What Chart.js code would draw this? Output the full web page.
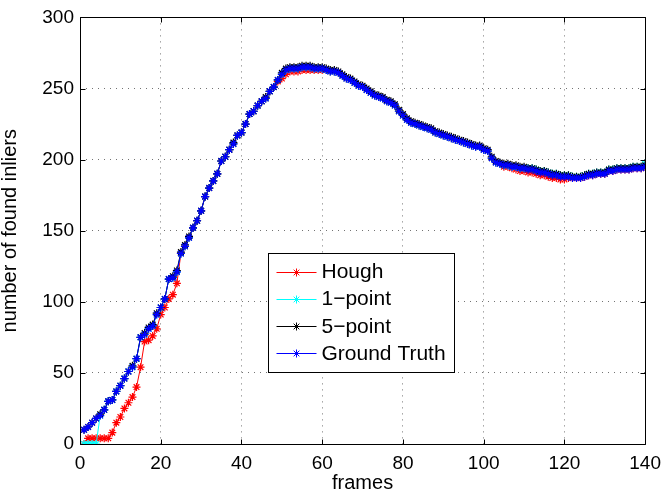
<!DOCTYPE html>
<html><head><meta charset="utf-8">
<script src="https://cdn.jsdelivr.net/npm/chart.js@4/dist/chart.umd.min.js"></script>
<style>html,body{margin:0;padding:0;background:#fff;overflow:hidden}#wrap{width:669px;height:498px;position:relative}</style>
</head><body><div id="wrap"><canvas id="c" width="669" height="498"></canvas></div>
<script>
const frames = [1,2,3,4,5,6,7,8,9,10,11,12,13,14,15,16,17,18,19,20,21,22,23,24,25,26,27,28,29,30,31,32,33,34,35,36,37,38,39,40,41,42,43,44,45,46,47,48,49,50,51,52,53,54,55,56,57,58,59,60,61,62,63,64,65,66,67,68,69,70,71,72,73,74,75,76,77,78,79,80,81,82,83,84,85,86,87,88,89,90,91,92,93,94,95,96,97,98,99,100,101,102,103,104,105,106,107,108,109,110,111,112,113,114,115,116,117,118,119,120,121,122,123,124,125,126,127,128,129,130,131,132,133,134,135,136,137,138,139,140];

const groundTruth = [10,12,15,18,20,24,30,31,37,41,
46,51,54,60,75,77,81,83,91,96,
102,116,117,121,134,139,145,152,157,164,
174,180,185,190,199,202,207,211,217,219,
225,232,234,238,241,243,248,251,256,260,
263,264,264,264,265,265,265,264,264,264,
263,262,262,261,259,257,256,254,252,251,
249,247,245,244,243,241,240,238,234,231,
228,226,225,224,223,222,221,219,218,217,
216,215,214,213,212,211,210,209,209,207,
206,201,198,197,196,196,195,195,194,194,
193,193,192,191,191,190,189,189,188,188,
188,187,187,187,188,189,189,190,190,190,
192,192,193,193,193,193,194,194,194,195];

const fivePoint = [10,12,15,18,21,24,30,31,37,41,
46,51,55,60,75,78,82,84,92,96,
102,116,118,122,135,140,146,152,157,164,
174,180,185,190,199,202,207,212,217,219,
225,232,234,238,241,244,248,251,256,261,
264,265,265,265,266,266,266,265,265,265,
264,263,263,262,260,258,257,255,253,252,
250,248,246,245,244,242,241,239,235,232,
229,227,226,225,224,223,222,220,219,218,
217,216,215,214,213,212,211,210,210,208,
207,202,199,198,197,197,196,196,195,195,
194,194,193,192,192,191,190,190,189,189,
189,188,188,188,189,190,190,191,191,191,
193,193,194,194,194,194,195,195,195,196];

const onePoint = [0,0,0,0,20,24,30,31,37,41,
46,51,54,60,75,77,81,83,91,96,
102,116,117,121,134,139,145,152,157,164,
174,180,185,190,199,202,207,211,217,219,
225,232,234,238,241,243,248,251,256,260,
263,264,264,264,265,265,265,264,264,264,
263,262,262,261,259,257,256,254,252,251,
249,247,245,244,243,241,240,238,234,231,
228,226,225,224,223,222,221,219,218,217,
216,215,214,213,212,211,210,209,209,207,
206,201,198,197,196,196,195,195,194,194,
194,194,193,192,192,191,190,190,189,189,
189,188,188,188,189,190,190,191,191,191,
193,193,194,194,194,194,195,195,195,197];

const hough = [0,4,4,4,4,4,4,8,15,19,
25,29,33,40,54,72,73,76,81,91,
96,102,105,113,134,139,145,152,157,164,
174,180,185,190,199,202,207,211,217,219,
225,232,234,238,241,243,248,251,255,257,
260,262,262,262,263,263,263,263,263,263,
263,262,262,261,259,257,256,254,252,251,
249,247,245,244,243,241,240,238,234,231,
228,226,225,224,223,222,221,219,218,217,
216,215,214,213,212,211,210,209,209,207,
206,201,198,197,195,195,194,193,192,192,
191,191,190,189,189,188,187,187,186,186,
187,187,187,187,188,189,189,190,190,190,
192,192,193,193,193,193,194,194,194,195];

const xTicks = [0,20,40,60,80,100,120,140];
const yTicks = [0,50,100,150,200,250,300];
const seriesNames = ['Hough','1\u2212point','5\u2212point','Ground Truth'];
const seriesColors = ['#ff0000','#00ffff','#000000','#0000ff'];
const seriesData = [hough, onePoint, fivePoint, groundTruth];

const FONT = 'Liberation Sans, Arial, Helvetica, sans-serif';

const datasets = seriesData.map((arr, i) => ({
  label: seriesNames[i],
  data: frames.map((f, k) => ({x: f, y: arr[k]})),
  borderColor: seriesColors[i],
  backgroundColor: seriesColors[i],
  borderWidth: 1,
  pointStyle: 'star',
  pointRadius: 4,
  pointBorderWidth: 1.2,
  pointBorderColor: seriesColors[i],
  tension: 0,
  order: 4 - i
}));

const framePlugin = {
  id: 'frame',
  afterDraw(chart) {
    const ctx = chart.ctx, a = chart.chartArea;
    const xs = chart.scales.x, ys = chart.scales.y;
    ctx.save();
    ctx.strokeStyle = '#000';
    ctx.lineWidth = 1;
    ctx.setLineDash([]);
    ctx.beginPath();
    const L = Math.round(a.left) + 0.5, R = Math.round(a.right) + 0.5, T = Math.round(a.top) + 0.5, B = Math.round(a.bottom) + 0.5;
    ctx.rect(L, T, R - L, B - T);
    const tl = 5;
    xTicks.forEach(v => {
      const px = Math.round(xs.getPixelForValue(v)) + 0.5;
      ctx.moveTo(px, B); ctx.lineTo(px, B - tl);
      ctx.moveTo(px, T); ctx.lineTo(px, T + tl);
    });
    yTicks.forEach(v => {
      const py = Math.round(ys.getPixelForValue(v)) + 0.5;
      ctx.moveTo(L, py); ctx.lineTo(L + tl, py);
      ctx.moveTo(R, py); ctx.lineTo(R - tl, py);
    });
    ctx.stroke();

    // legend box inside plot
    const bx = Math.round(a.left + 188) + 0.5, by = Math.round(a.top + 236) + 0.5, bw = 186, bh = 119;
    ctx.fillStyle = '#fff';
    ctx.fillRect(bx, by, bw, bh);
    ctx.strokeRect(bx, by, bw, bh);
    ctx.font = '21px ' + FONT;
    ctx.textBaseline = 'middle';
    ctx.textAlign = 'left';
    for (let i = 0; i < seriesNames.length; i++) {
      const cy = by + 18 + i * 27.2;
      ctx.strokeStyle = seriesColors[i];
      ctx.lineWidth = 1;
      ctx.beginPath();
      ctx.moveTo(bx + 8, Math.round(cy) + 0.5);
      ctx.lineTo(bx + 48, Math.round(cy) + 0.5);
      ctx.stroke();
      ctx.fillStyle = seriesColors[i];
      Chart.helpers.drawPoint(ctx, {pointStyle: 'star', radius: 4, borderWidth: 1.2, rotation: 0}, bx + 28, Math.round(cy) + 0.5);
      ctx.fillStyle = '#000';
      ctx.fillText(seriesNames[i], bx + 53, cy + 1);
    }
    ctx.restore();
  }
};

new Chart(document.getElementById('c'), {
  type: 'line',
  data: { datasets },
  options: {
    responsive: false,
    animation: false,
    devicePixelRatio: 1,
    layout: { padding: { top: 12, right: 21, left: 0, bottom: 0 } },
    plugins: { legend: { display: false }, tooltip: { enabled: false } },
    elements: { point: { hitRadius: 0 } },
    scales: {
      x: {
        type: 'linear', min: 0, max: 140,
        afterBuildTicks: s => { s.ticks = xTicks.map(v => ({value: v})); },
        afterFit: s => { s.height = 54; },
        ticks: { color: '#000', font: { family: FONT, size: 19 }, padding: 8, maxRotation: 0 },
        grid: { color: 'rgba(0,0,0,0.55)', lineWidth: 1, drawTicks: false },
        border: { display: false, dash: [1, 5] },
        title: { display: true, text: 'frames', color: '#000', font: { family: FONT, size: 20, lineHeight: 1.2 }, padding: { top: 0, bottom: 3 } }
      },
      y: {
        type: 'linear', min: 0, max: 300,
        afterBuildTicks: s => { s.ticks = yTicks.map(v => ({value: v})); },
        afterFit: s => { s.width = 80; },
        ticks: { color: '#000', font: { family: FONT, size: 19 }, padding: 6 },
        grid: { color: 'rgba(0,0,0,0.55)', lineWidth: 1, drawTicks: false },
        border: { display: false, dash: [1, 5] },
        title: { display: true, text: 'number of found inliers', color: '#000', font: { family: FONT, size: 20, lineHeight: 1 }, padding: { top: 0, bottom: 0 } }
      }
    }
  },
  plugins: [framePlugin]
});
</script></body></html>
